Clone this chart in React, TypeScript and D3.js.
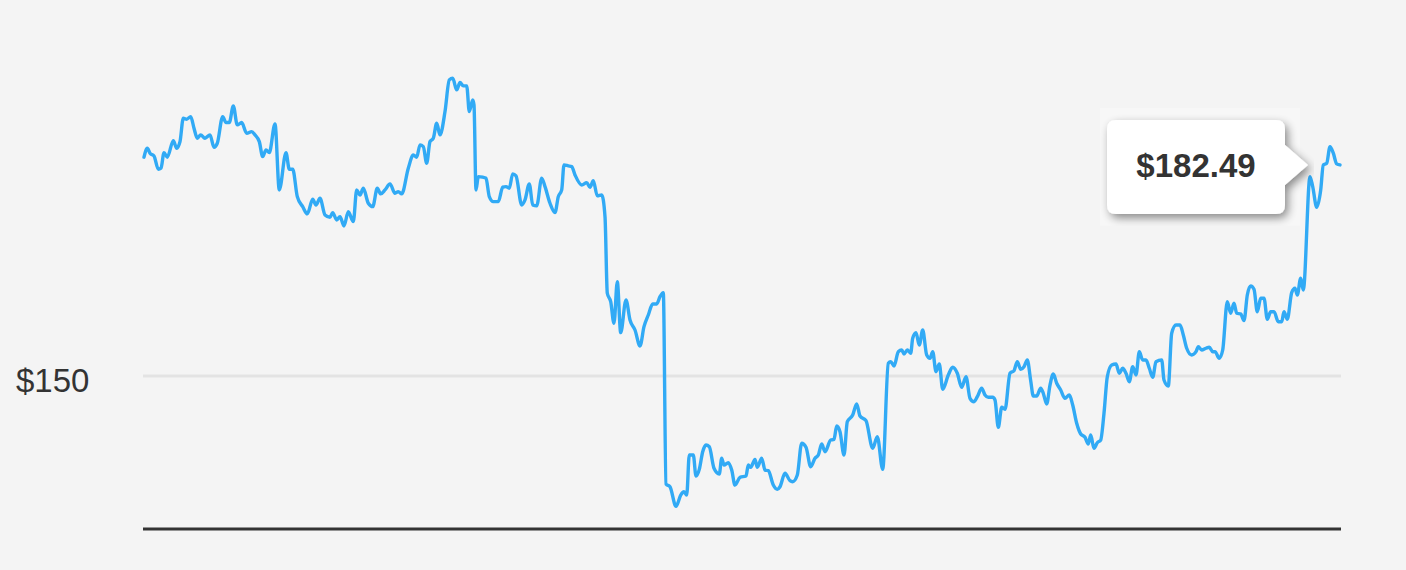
import React from "react";
import * as d3 from "d3";

// Trading-day index (fractional) and closing price
const days: number[] = [
  0, 0.66, 1.2, 2, 2.86, 3.4, 4, 4.66, 5.86, 6.54, 7.2, 7.86, 8.54, 9.34, 10, 10.66, 11.34, 12.2, 13.2, 14,
  14.66, 15.74, 16.4, 17.06, 17.86, 18.66, 19.54, 20.54, 21.54, 22.2, 23.06, 23.74, 24.4, 25.06, 26.2, 27.06, 28.4, 29.06, 29.74, 30.66,
  31.74, 32.66, 33.74, 34.4, 35.2, 36.2, 37.2, 37.74, 38.54, 39.2, 40, 40.86, 41.86, 42.54, 43.2, 43.86, 44.86, 45.74, 46.66, 47.34,
  48.2, 49.2, 50.2, 50.86, 51.54, 52.86, 53.86, 54.54, 55.2, 55.86, 56.54, 57.2, 57.86, 58.54, 59.2, 60.2, 61.06, 61.74, 62.54, 63.2,
  63.86, 64.54, 65.06, 65.74, 66, 66.4, 66.86, 67.74, 68.4, 69.06, 69.86, 70.86, 71.74, 72.4, 73.06, 73.74, 74.4, 75.54, 76.2, 77.06,
  77.74, 78.54, 79.54, 80.2, 81.2, 82.2, 82.86, 83.54, 84, 84.86, 85.54, 86.2, 87.54, 88.54, 89.2, 89.86, 90.66, 91.54, 92.2, 92.66,
  93.34, 94, 94.66, 95.34, 96.4, 97.2, 98.2, 99.2, 100, 100.86, 101.74, 102.54, 103.2, 103.86, 104.4, 105.2, 106.4, 107.34, 108, 108.54,
  109.06, 109.86, 110.4, 111.06, 111.74, 112.4, 113.06, 114, 115.06, 115.54, 116, 116.86, 117.54, 118.2, 119.2, 120.4, 120.86, 121.34, 122.2, 122.66,
  123.54, 124.2, 124.86, 125.86, 126.66, 127.2, 128.2, 129.2, 129.74, 130.66, 131.54, 132.4, 133.34, 134.2, 134.86, 135.54, 136.2, 137.34, 138, 138.54,
  139.2, 140, 140.66, 141.74, 142.54, 143.2, 144.4, 145.74, 146.66, 147.74, 148.86, 149.34, 150, 150.86, 151.54, 152, 152.66, 153.34, 153.74, 154.4,
  155.06, 155.74, 156.54, 157.2, 157.74, 158.4, 159.06, 159.74, 160.86, 161.74, 162.66, 163.54, 164.4, 165.2, 166, 166.66, 167.54, 168.2, 168.86, 169.74,
  170.2, 170.86, 171.54, 172.2, 173.2, 174, 174.66, 175.34, 176, 176.66, 177.34, 177.86, 178.54, 179.34, 179.86, 180.54, 181.2, 181.86, 182.54, 183.34,
  184.2, 185.06, 185.74, 186.54, 187.34, 188.2, 188.86, 189.34, 190, 190.66, 191.34, 192, 192.66, 193.54, 194.4, 195.06, 195.74, 196.4, 197.06, 197.74,
  198.4, 199.06, 199.74, 200.4, 201.06, 201.74, 202.4, 203.54, 204, 204.86, 205.54, 206.4, 207.2, 207.86, 208.54, 209.54, 210.4, 210.86, 211.54, 212.4,
  213.06, 213.74, 214.2, 215.06, 215.74, 216.66, 217.34, 218, 218.54, 219.34, 220, 220.66, 221.34, 222, 222.66, 223.34, 224, 224.66, 225.34, 226,
  226.86, 227.54, 228, 228.66, 229.54, 230.2, 230.66, 231.34, 231.86, 233.2, 233.74, 234.54, 235.34, 235.86, 236.54, 237.2, 237.86, 238.54, 239.2,
];

const prices: number[] = [
  183.68, 185.06, 184.29, 183.88, 181.83, 181.98, 184.39, 183.68, 186.23, 185.06, 186.08, 189.68, 189.53, 189.93, 188.14, 186.6, 187.11, 186.6, 187.11, 185.22,
  185.83, 189.93, 189.01, 189.01, 191.58, 188.65, 189.01, 187.37, 187.62, 187.11, 186.08, 183.77, 184.8, 184.39, 188.81, 178.64, 184.39, 181.83, 181.83, 177.61,
  176.07, 174.95, 177.21, 176.33, 177.36, 174.79, 174.44, 175.15, 174.02, 174.53, 173.1, 175.3, 173.76, 178.64, 177.87, 178.9, 176.59, 176.07, 178.9, 178.03,
  178.64, 179.57, 178.13, 178.38, 178.03, 181.98, 184.03, 183.68, 185.57, 185.31, 182.75, 186.08, 186.6, 188.91, 187.11, 190.7, 195.58, 195.84, 194.04, 195.17,
  194.66, 194.66, 190.7, 192.5, 191.73, 178.64, 180.69, 180.6, 180.44, 177.61, 176.84, 176.84, 179.06, 179.15, 178.9, 181.11, 180.8, 176.33, 177.1, 179.57,
  176.33, 176.18, 180.44, 179.15, 176.59, 175.15, 177.61, 178.64, 182.49, 182.34, 182.23, 180.95, 179.41, 179.77, 179.06, 180.07, 177.72, 177.87, 174.53, 162.74,
  161.44, 158.12, 164.52, 156.67, 161.7, 158.62, 157.08, 154.62, 157.59, 159.39, 161.09, 161.09, 162.21, 162.83, 133.37, 132.95, 129.93, 131.67, 132.18, 131.67,
  137.83, 137.83, 134.6, 135.63, 138.34, 139.37, 139.11, 135.79, 134.91, 137.33, 136.29, 136.65, 135.52, 133.21, 134.4, 134.6, 136.29, 135.94, 137.17, 135.94,
  137.33, 135.52, 135.42, 133.21, 132.55, 132.95, 135.02, 133.88, 133.72, 134.75, 139.64, 139.02, 136.03, 137.33, 137.83, 139.53, 138.34, 140.14, 140.25, 142.3,
  141.42, 137.83, 142.96, 143.99, 145.69, 143.84, 143.12, 138.87, 140.65, 135.63, 151.96, 152.2, 151.54, 153.74, 154.0, 153.39, 154.0, 153.5, 155.81, 156.67,
  154.77, 157.08, 153.23, 152.73, 153.74, 150.66, 151.85, 147.95, 150.15, 151.34, 150.42, 148.26, 149.89, 146.57, 146.04, 146.81, 148.11, 147.07, 146.72, 146.72,
  146.3, 142.1, 145.18, 144.87, 150.42, 150.82, 152.2, 151.03, 151.43, 152.46, 149.28, 146.92, 146.92, 148.11, 147.34, 145.69, 148.61, 150.31, 148.88, 147.84,
  146.57, 147.07, 145.53, 142.72, 141.07, 140.56, 139.53, 140.91, 138.87, 139.73, 140.14, 144.26, 149.89, 151.69, 151.85, 150.42, 151.19, 150.42, 149.12, 151.43,
  150.15, 153.74, 152.46, 152.46, 151.19, 149.8, 152.2, 152.46, 149.38, 148.46, 156.58, 157.85, 157.85, 156.31, 154.27, 153.23, 153.74, 154.51, 154.0, 154.27,
  154.42, 153.74, 153.74, 152.73, 154.0, 161.44, 159.66, 161.2, 159.66, 159.55, 158.52, 162.47, 163.86, 163.35, 159.9, 161.97, 161.97, 158.73, 159.9, 159.9,
  158.36, 158.36, 159.9, 158.73, 162.83, 163.51, 162.47, 165.04, 163.24, 180.69, 179.15, 175.98, 178.64, 182.49, 182.75, 185.31, 184.29, 182.65, 182.49,
];

const gridTicks: number[] = [150];
const tickLabel = (v: number) => `$${d3.format(".0f")(v)}`;
const tooltipLabel = (v: number) => `$${d3.format(".2f")(v)}`;

const W = 1406;
const H = 570;
const FONT = "'Liberation Sans', Arial, Helvetica, sans-serif";

export default function App() {
  const x = d3.scaleLinear().domain([0, 239.2]).range([144, 1340]);
  const y = d3.scaleLinear().domain([126.6, 204.8]).range([528, 20]);

  const pts: [number, number][] = days.map((d, i) => [d, prices[i]]);
  const line = d3
    .line<[number, number]>()
    .x((d) => x(d[0]))
    .y((d) => y(d[1]))
    .curve(d3.curveMonotoneX);

  const last = pts[pts.length - 1];
  const lx = x(last[0]);
  const ly = y(last[1]);

  // tooltip geometry relative to last point
  const tipX = lx - 32;
  const tipY = ly;
  const bx1 = tipX - 23;
  const bx0 = bx1 - 178;
  const by0 = tipY - 45;
  const by1 = tipY + 49;
  const r = 9;
  const ah = 20;
  const tooltipPath = [
    `M${bx0 + r},${by0}`,
    `H${bx1 - r}`,
    `Q${bx1},${by0} ${bx1},${by0 + r}`,
    `V${tipY - ah}`,
    `L${tipX},${tipY}`,
    `L${bx1},${tipY + ah}`,
    `V${by1 - r}`,
    `Q${bx1},${by1} ${bx1 - r},${by1}`,
    `H${bx0 + r}`,
    `Q${bx0},${by1} ${bx0},${by1 - r}`,
    `V${by0 + r}`,
    `Q${bx0},${by0} ${bx0 + r},${by0}`,
    "Z",
  ].join(" ");

  const [r0, r1] = x.range();

  return (
    <div style={{ position: "fixed", left: 0, top: 0, width: W, height: H, background: "#f4f4f4" }}>
      <svg width={W} height={H} style={{ display: "block" }}>
        <defs>
          <filter
            id="tipShadow"
            filterUnits="userSpaceOnUse"
            x={bx0 - 10}
            y={by0 - 12}
            width={tipX - bx0 + 16}
            height={by1 - by0 + 24}
          >
            <feGaussianBlur in="SourceAlpha" stdDeviation="5" />
            <feOffset dx="3" dy="4" result="b" />
            <feComponentTransfer>
              <feFuncA type="linear" slope="0.45" />
            </feComponentTransfer>
            <feMerge>
              <feMergeNode />
              <feMergeNode in="SourceGraphic" />
            </feMerge>
          </filter>
        </defs>
        <rect x={0} y={0} width={W} height={H} fill="#f4f4f4" />
        {gridTicks.map((t) => (
          <g key={t}>
            <line x1={r0 - 1} x2={r1 + 1} y1={y(t)} y2={y(t)} stroke="#e3e3e3" strokeWidth={3} />
            <text x={16} y={y(t) + 16} fontFamily={FONT} fontSize={33} fill="#333">
              {tickLabel(t)}
            </text>
          </g>
        ))}
        <line x1={r0 - 1} x2={r1 + 1} y1={529} y2={529} stroke="#333" strokeWidth={3} />
        <rect
          x={bx0 - 7}
          y={by0 - 12}
          width={tipX - bx0 - 1}
          height={by1 - by0 + 24}
          fill="#ffffff"
          opacity={0.25}
        />
        <path d={line(pts) ?? ""} fill="none" stroke="#31aaf5" strokeWidth={3.4} strokeLinejoin="round" strokeLinecap="round" />
        <path d={tooltipPath} fill="#ffffff" filter="url(#tipShadow)" />
        <text
          x={(bx0 + bx1) / 2}
          y={tipY + 12}
          textAnchor="middle"
          fontFamily={FONT}
          fontWeight="bold"
          fontSize={33}
          fill="#333"
        >
          {tooltipLabel(last[1])}
        </text>
      </svg>
    </div>
  );
}
